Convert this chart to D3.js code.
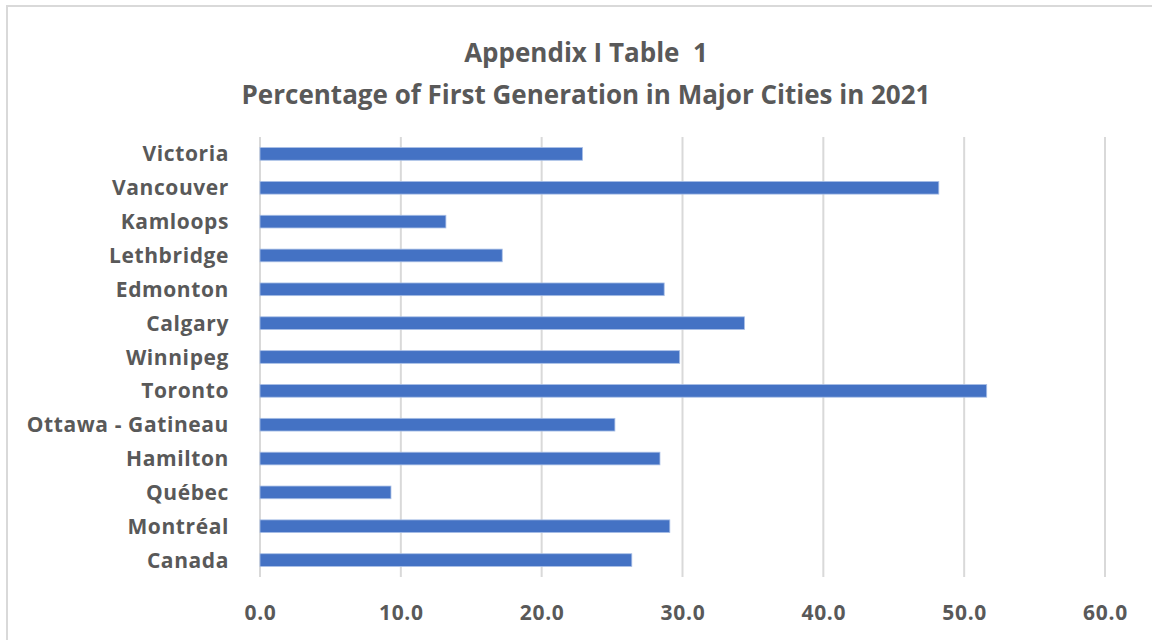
<!DOCTYPE html>
<html>
<head>
<meta charset="utf-8">
<script src="https://cdn.jsdelivr.net/npm/d3@7"></script>
<style>
  html, body { margin: 0; padding: 0; background: #fff; }
  svg { display: block; }
</style>
</head>
<body>
<svg id="chart" width="1152" height="640"></svg>
<script>
const titleLines = ["Appendix I Table  1", "Percentage of First Generation in Major Cities in 2021"];
const categories = ["Victoria", "Vancouver", "Kamloops", "Lethbridge", "Edmonton", "Calgary", "Winnipeg", "Toronto", "Ottawa - Gatineau", "Hamilton", "Québec", "Montréal", "Canada"];
const values = [22.9, 48.2, 13.2, 17.2, 28.7, 34.4, 29.8, 51.6, 25.2, 28.4, 9.3, 29.1, 26.4];
const xTicks = [0, 10, 20, 30, 40, 50, 60];

const svg = d3.select("#chart");
const W = 1152, H = 640;
const margin = {left: 260, right: 47, top: 137, bottom: 63};
const textColor = "#595959";

// chart area border
svg.append("rect")
  .attr("x", 7).attr("y", 6)
  .attr("width", W + 20).attr("height", H + 20)
  .attr("fill", "#fff")
  .attr("stroke", "#d9d9d9").attr("stroke-width", 2);

const x = d3.scaleLinear().domain([0, 60]).range([margin.left, W - margin.right]);
const y = d3.scaleBand().domain(categories).range([margin.top, H - margin.bottom]).paddingInner(0.625).paddingOuter(0.3125);

// gridlines
svg.append("g").selectAll("line").data(xTicks).join("line")
  .attr("x1", d => x(d)).attr("x2", d => x(d))
  .attr("y1", margin.top).attr("y2", H - margin.bottom)
  .attr("stroke", "#d9d9d9").attr("stroke-width", 2);

// bars
svg.append("g").selectAll("rect").data(categories).join("rect")
  .attr("x", x(0))
  .attr("y", d => y(d))
  .attr("width", (d, i) => x(values[i]) - x(0))
  .attr("height", y.bandwidth())
  .attr("fill", "#4472c4")
  .attr("stroke", "#a9bfe6").attr("stroke-width", 0.8);

// x axis labels
const xAxis = d3.axisBottom(x).tickValues(xTicks).tickFormat(d3.format(".1f")).tickSize(0).tickPadding(0);
const gx = svg.append("g").attr("transform", `translate(0, ${H - margin.bottom})`).call(xAxis);
gx.select(".domain").remove();
gx.selectAll("text")
  .attr("y", 43).attr("dy", 0)
  .attr("fill", textColor)
  .style("font-family", "'Open Sans', sans-serif")
  .style("font-weight", 700)
  .style("font-size", "21px")
  .style("letter-spacing", "0.7px");

// y axis labels
const yAxis = d3.axisLeft(y).tickSize(0).tickPadding(0);
const gy = svg.append("g").attr("transform", `translate(${margin.left - 31}, 0)`).call(yAxis);
gy.select(".domain").remove();
gy.selectAll("text")
  .attr("dy", "0.36em")
  .attr("fill", textColor)
  .style("font-family", "'Open Sans', sans-serif")
  .style("font-weight", 700)
  .style("font-size", "21px")
  .style("letter-spacing", "0.6px");

// title
svg.append("g").selectAll("text").data(titleLines).join("text")
  .attr("x", 586)
  .attr("y", (d, i) => 62 + i * 42)
  .attr("text-anchor", "middle")
  .attr("fill", textColor)
  .style("white-space", "pre")
  .style("font-family", "'Open Sans', sans-serif")
  .style("font-weight", 700)
  .style("font-size", "26px")
  .text(d => d);
</script>
</body>
</html>
